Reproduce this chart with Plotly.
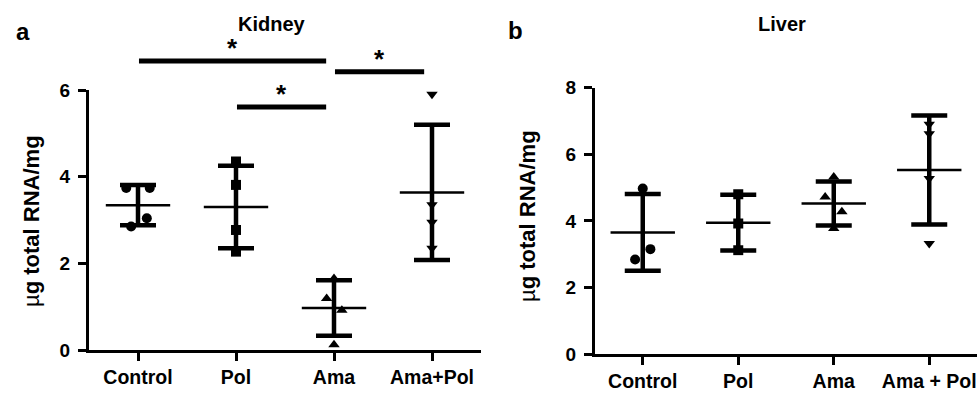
import numpy as np
import plotly.graph_objects as go

# ---------------- data ----------------
categories_kidney = ["Control", "Pol", "Ama", "Ama+Pol"]
categories_liver = ["Control", "Pol", "Ama", "Ama + Pol"]

kidney_control = [3.74, 3.74, 3.04, 2.85]
kidney_pol = [4.35, 3.81, 2.77, 2.27]
kidney_ama = [1.65, 1.19, 0.92, 0.12]
kidney_amapol = [5.90, 3.35, 2.95, 2.35]

liver_control = [4.97, 3.15, 2.84]
liver_pol = [4.80, 3.92, 3.12]
liver_ama = [5.32, 4.72, 4.27, 3.77]
liver_amapol = [6.90, 6.62, 5.27, 3.32]

kidney_ticks = [0, 2, 4, 6]
liver_ticks = [0, 2, 4, 6, 8]

# significance comparisons (group1, group2, bracket level in µg/mg)
kidney_sig_pairs = [("Control", "Ama"), ("Pol", "Ama"), ("Ama", "Ama+Pol")]
kidney_sig_levels = [6.67, 5.61, 6.42]

# ---------------- styling ----------------
W, H = 978, 396
FONT = "Liberation Sans, Arial, sans-serif"
symbols = ["circle", "square", "triangle-up", "triangle-down"]
# horizontal scatter of overlapping points (category units)
kidney_jitter = [[-0.12, 0.12, 0.09, -0.07], [0, 0, 0, 0], [0, -0.075, 0.08, 0], [0, 0, 0, 0]]
liver_jitter = [[0, 0.08, -0.08], [0, 0, 0], [0, -0.09, 0.085, 0], [0, 0, 0, 0]]


def px_x(p):
    return p / W


def px_y(p):
    return 1 - p / H


fig = go.Figure()


def add_panel(groups, jitter, xa, ya):
    means = [float(np.mean(g)) for g in groups]
    sds = [float(np.std(g, ddof=1)) for g in groups]
    for i, g in enumerate(groups):
        fig.add_trace(go.Scatter(
            x=[i + j for j in jitter[i]], y=g, mode="markers",
            marker=dict(symbol=symbols[i], size=10, color="black"),
            xaxis=xa, yaxis=ya, showlegend=False, hoverinfo="y"))
    fig.add_trace(go.Scatter(
        x=list(range(len(groups))), y=means, mode="markers",
        marker=dict(symbol="line-ew", size=46, color="black",
                    line=dict(width=2.5, color="black")),
        error_y=dict(type="data", array=sds, visible=True, color="black",
                     thickness=4.5, width=18),
        xaxis=xa, yaxis=ya, showlegend=False, hoverinfo="y"))


add_panel([kidney_control, kidney_pol, kidney_ama, kidney_amapol], kidney_jitter, "x", "y")
add_panel([liver_control, liver_pol, liver_ama, liver_amapol], liver_jitter, "x2", "y2")

# significance brackets on an invisible overlay subplot sharing the kidney scale
for (g1, g2), lvl in zip(kidney_sig_pairs, kidney_sig_levels):
    i1 = categories_kidney.index(g1)
    i2 = categories_kidney.index(g2)
    x0, x1 = i1 + 0.01, i2 - 0.08
    fig.add_trace(go.Scatter(x=[x0, x1], y=[lvl, lvl], mode="lines",
                             line=dict(color="black", width=5),
                             xaxis="x3", yaxis="y3", showlegend=False,
                             hoverinfo="skip"))
    fig.add_annotation(x=(x0 + x1) / 2, y=lvl, xref="x3", yref="y3", text="*",
                       showarrow=False, yanchor="bottom", yshift=-4,
                       font=dict(family=FONT, size=26, color="black", weight="bold"))

axis_common = dict(showline=True, linewidth=3, linecolor="black", ticks="outside",
                   ticklen=8, tickwidth=3, tickcolor="black", showgrid=False,
                   zeroline=False, fixedrange=True, automargin=False)
xtick_font = dict(family=FONT, size=19.5, color="black", weight="bold")
ytick_font = dict(family=FONT, size=19, color="black", weight="bold")

k_bottom, k_top6 = 350, 90
k_ppu = (k_bottom - k_top6) / 6.0
l_bottom, l_top8 = 354, 87.7

fig.update_layout(
    width=W, height=H, margin=dict(l=0, r=0, t=0, b=0, autoexpand=False),
    paper_bgcolor="white", plot_bgcolor="rgba(0,0,0,0)",
    xaxis=dict(domain=[px_x(89), px_x(481)], range=[-0.5, 3.5], tickmode="array",
               tickvals=list(range(4)), ticktext=categories_kidney, anchor="y",
               tickfont=xtick_font, **axis_common),
    yaxis=dict(domain=[px_y(k_bottom), px_y(k_top6)], range=[0, 6], tickmode="array",
               tickvals=kidney_ticks, anchor="x", ticklabelstandoff=4,
               tickfont=ytick_font, **axis_common),
    xaxis2=dict(domain=[px_x(595), px_x(977)], range=[-0.5, 3.5], tickmode="array",
                tickvals=list(range(4)), ticktext=categories_liver, anchor="y2",
                tickfont=xtick_font, **axis_common),
    yaxis2=dict(domain=[px_y(l_bottom), px_y(l_top8)], range=[0, 8], tickmode="array",
                tickvals=liver_ticks, anchor="x2", ticklabelstandoff=4,
                tickfont=ytick_font, **axis_common),
    xaxis3=dict(domain=[px_x(89), px_x(481)], range=[-0.5, 3.5], visible=False,
                anchor="y3", fixedrange=True, automargin=False),
    yaxis3=dict(domain=[px_y(k_bottom), px_y(k_bottom - 7 * k_ppu)], range=[0, 7],
                visible=False, anchor="x3", fixedrange=True, automargin=False),
)

title_font = dict(family=FONT, size=20, color="black", weight="bold")
letter_font = dict(family=FONT, size=24, color="black", weight="bold")
ytitle_font = dict(family=FONT, size=22, color="black")

fig.add_annotation(x=px_x(272), y=px_y(24), xref="paper", yref="paper", text="Kidney",
                   showarrow=False, xanchor="center", yanchor="middle", font=title_font)
fig.add_annotation(x=px_x(782), y=px_y(24), xref="paper", yref="paper", text="Liver",
                   showarrow=False, xanchor="center", yanchor="middle", font=title_font)
fig.add_annotation(x=px_x(23), y=px_y(31), xref="paper", yref="paper", text="a",
                   showarrow=False, xanchor="center", yanchor="middle", font=letter_font)
fig.add_annotation(x=px_x(515), y=px_y(30), xref="paper", yref="paper", text="b",
                   showarrow=False, xanchor="center", yanchor="middle", font=letter_font)
ytitle = "µ<b>g total RNA/mg</b>"
fig.add_annotation(x=px_x(31), y=px_y(221), xref="paper", yref="paper", text=ytitle,
                   textangle=-90, showarrow=False, xanchor="center", yanchor="middle",
                   font=ytitle_font)
fig.add_annotation(x=px_x(528), y=px_y(216), xref="paper", yref="paper", text=ytitle,
                   textangle=-90, showarrow=False, xanchor="center", yanchor="middle",
                   font=ytitle_font)

fig.write_html("out.html", config={"displayModeBar": False},
               post_script="document.body.style.margin='0';document.body.style.overflow='hidden';")
